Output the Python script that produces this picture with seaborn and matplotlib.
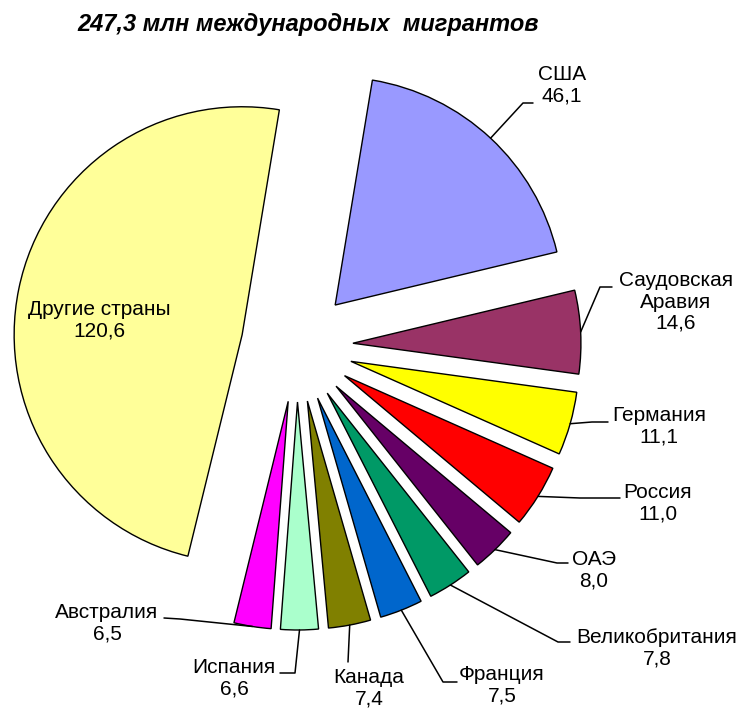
import numpy as np
import matplotlib
matplotlib.use("Agg")
import matplotlib.pyplot as plt
import seaborn as sns

# data (млн человек), clockwise from США
countries = ['США', 'Саудовская\nАравия', 'Германия', 'Россия', 'ОАЭ', 'Великобритания',
             'Франция', 'Канада', 'Испания', 'Австралия', 'Другие страны']
values = [46.1, 14.6, 11.1, 11.0, 8.0, 7.8, 7.5, 7.4, 6.6, 6.5, 120.6]
colors = ['#9999FF', '#993366', '#FFFF00', '#FF0000', '#660066', '#009966',
          '#0066CC', '#808000', '#AAFFCC', '#FF00FF', '#FFFF99']
title = '247,3 млн международных  мигрантов'

sns.set_theme(style="white")
plt.rcParams['font.family'] = ['Liberation Sans', 'DejaVu Sans']

W, H = 744, 709
fig = plt.figure(figsize=(W / 100, H / 100), dpi=100)
ax = fig.add_axes([0, 0, 1, 1])

# explode is in data units here (pixels), since radius is in pixels too
wedges, _ = ax.pie(values, colors=colors, explode=[56] * len(values),
                   startangle=80.6, counterclock=False, radius=228,
                   center=(297, H - 346),
                   wedgeprops=dict(edgecolor='black', linewidth=1))
ax.set_xlim(0, W)
ax.set_ylim(0, H)
ax.set_aspect('equal')
ax.axis('off')

# label layout in screen pixels (y down): text centre, leader elbow, leader end
text_pos = [(562, 85), (676, 302), (659, 426), (658, 503), (594, 570), (657, 648),
            (502, 685), (369, 688), (234, 678), (107, 623), (99, 320)]
elbows = [(523, 103), (600, 287), (592, 422), (580, 498), (557, 563), (558, 642),
          (443, 682), (348, 662), (295, 673), (180, 619), None]
ends = [(533, 103), (612, 287), (608, 422), (620, 498), (568, 563), (570, 642),
        (457, 682), (348, 662), (280, 673), (164, 618), None]

for w, name, val, tp, el, en in zip(wedges, countries, values, text_pos, elbows, ends):
    label = f"{name}\n{val:.1f}".replace('.', ',')
    ax.text(tp[0], H - tp[1], label, ha='center', va='center', fontsize=15,
            linespacing=1.15, color='black')
    if el is None:
        continue
    mid = np.deg2rad((w.theta1 + w.theta2) / 2)
    ax_x = w.center[0] + w.r * np.cos(mid)
    ax_y = w.center[1] + w.r * np.sin(mid)
    ax.plot([ax_x, el[0], en[0]], [ax_y, H - el[1], H - en[1]],
            color='black', linewidth=1.1)

ax.text(308, H - 25, title, ha='center', va='center', fontsize=17,
        fontweight='bold', fontstyle='italic', color='black')

fig.savefig('out.png', dpi=100)
